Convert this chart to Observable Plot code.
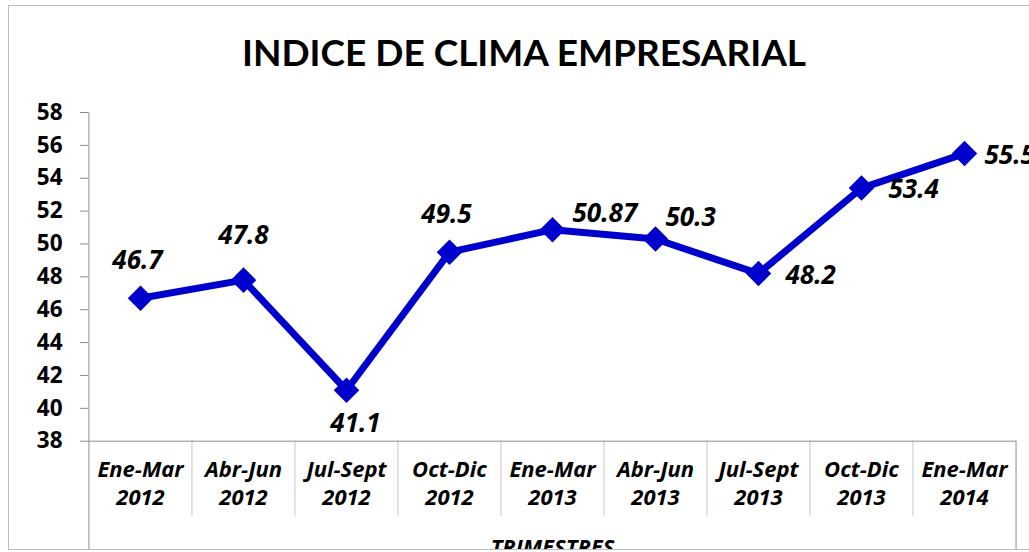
<!DOCTYPE html>
<html><head><meta charset="utf-8">
<script src="https://cdn.jsdelivr.net/npm/d3@7"></script>
<script src="https://cdn.jsdelivr.net/npm/@observablehq/plot@0.6"></script>
<style>
html,body{margin:0;padding:0;background:#fff;overflow:hidden;}
#wrap{position:relative;width:1029px;height:552px;overflow:hidden;}
#chart{position:absolute;left:0;top:0;width:1029px;height:549px;overflow:hidden;}
#border{position:absolute;left:8px;top:5px;width:1100px;height:545px;border:1px solid #bdbdbd;box-sizing:border-box;pointer-events:none;}
</style></head><body>
<div id="wrap"><div id="chart"></div><div id="border"></div></div>
<script>
const chartTitle = "INDICE DE CLIMA EMPRESARIAL";
const axisTitle = "TRIMESTRES";
const quarters = ["Ene-Mar","Abr-Jun","Jul-Sept","Oct-Dic","Ene-Mar","Abr-Jun","Jul-Sept","Oct-Dic","Ene-Mar"];
const years = ["2012","2012","2012","2012","2013","2013","2013","2013","2014"];
const values = [46.7,47.8,41.1,49.5,50.87,50.3,48.2,53.4,55.5];
const valueLabels = ["46.7","47.8","41.1","49.5","50.87","50.3","48.2","53.4","55.5"];
const yTicks = [38,40,42,44,46,48,50,52,54,56,58];

const data = quarters.map((q,i)=>({cat: q + "\n" + years[i], value: values[i], label: valueLabels[i]}));
const domain = data.map(d=>d.cat);

const W = 1029, H = 549, mL = 88, mR = 13;
const step = (W - mL - mR) / domain.length;
const blue = "#0000CC";
const F = "'Open Sans', Lato, sans-serif";
const FT = "Lato, 'Open Sans', sans-serif";

const pick = idx => data.filter((d,i)=>idx.includes(i));
const lbl = (idx, o) => Plot.text(pick(idx), {x:"cat", y:"value", text:"label", fontSize:26, fontWeight:"bold", fontStyle:"italic", fill:"#000", lineAnchor:"bottom", ...o});

const plot = Plot.plot({
  width: W, height: H,
  marginLeft: mL, marginRight: mR, marginTop: 112, marginBottom: 108.3,
  style: {fontFamily: F, background: "transparent", color: "#000"},
  x: {type: "point", domain, padding: 0.5, align: 0.5},
  y: {domain: [38,58]},
  marks: [
    Plot.ruleX(domain.slice(1), {x: d=>d, y1: 38, y2: 38, insetBottom: -75, dx: -step/2, stroke: "#c4c4c4", strokeWidth: 1}),
    Plot.ruleX([domain[0]], {x: d=>d, y1: 58, y2: 38, insetBottom: -110, dx: -step/2, stroke: "#8c8c8c", strokeWidth: 1}),
    Plot.ruleX([domain[domain.length-1]], {x: d=>d, y1: 38, y2: 38, insetBottom: -110, dx: step/2, stroke: "#8c8c8c", strokeWidth: 1}),
    Plot.ruleY([38], {stroke: "#8c8c8c", strokeWidth: 1}),
    Plot.axisY({ticks: yTicks, tickSize: 8, tickPadding: 18, fontSize: 22.5, fontWeight: "bold", stroke: "#8c8c8c", fill: "#000", label: null}),
    Plot.axisX({tickSize: 0, tickPadding: 16.3, fontSize: 22, fontWeight: "bold", fontStyle: "italic", lineHeight: 1.27, fill: "#000", label: null}),
    Plot.line(data, {x: "cat", y: "value", stroke: blue, strokeWidth: 7, strokeLinejoin: "round"}),
    Plot.dot(data, {x: "cat", y: "value", symbol: "diamond2", r: 11.5, fill: blue, stroke: "none"}),
    lbl([0,3], {textAnchor: "middle", dx: -3, dy: -29}),
    lbl([1], {textAnchor: "middle", dy: -36}),
    lbl([2], {textAnchor: "middle", dx: 9, dy: 42}),
    lbl([4], {textAnchor: "start", dx: 20, dy: -8}),
    lbl([5], {textAnchor: "start", dx: 10, dy: -13}),
    lbl([6,7], {textAnchor: "start", dx: 27, dy: 10}),
    lbl([8], {textAnchor: "start", dx: 20, dy: 10}),
    Plot.text([chartTitle], {frameAnchor: "top", dx: -28.5, dy: -47, lineAnchor: "bottom", fontFamily: FT, fontSize: 37, fontWeight: "bold", fill: "#000"}),
    Plot.text([axisTitle], {frameAnchor: "bottom", dy: 114, lineAnchor: "bottom", fontSize: 22, fontWeight: "bold", fontStyle: "italic", fill: "#000"})
  ]
});
document.getElementById("chart").appendChild(plot);
</script>
</body></html>
